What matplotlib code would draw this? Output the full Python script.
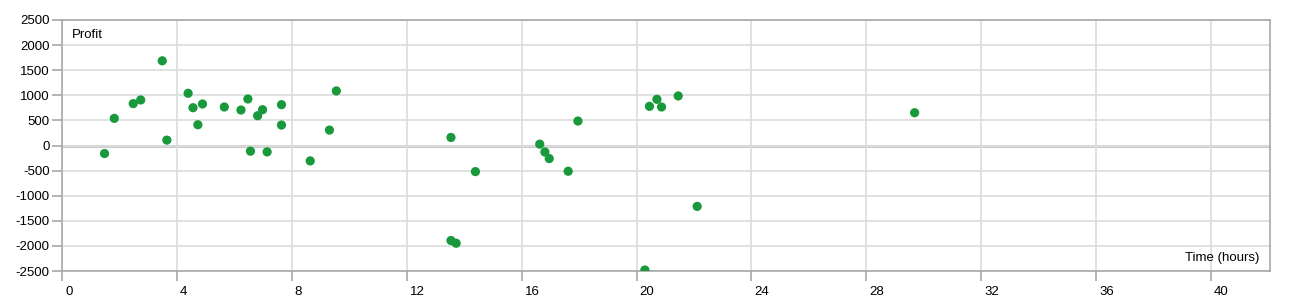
import numpy as np
import matplotlib
matplotlib.use("Agg")
import matplotlib.pyplot as plt
import matplotlib.transforms as mtransforms

plt.rcParams['font.family'] = ['Liberation Sans', 'DejaVu Sans']

# trade duration (hours) vs profit
hours = [1.48, 1.82, 2.48, 2.74, 3.49, 3.65, 4.39, 4.56, 4.73, 4.89,
         5.65, 6.23, 6.47, 6.56, 6.81, 6.98, 7.14, 7.64, 7.64, 8.64,
         9.31, 9.55, 13.54, 13.54, 13.72, 14.39, 16.63, 16.81, 16.96, 17.62,
         17.96, 20.29, 20.45, 20.71, 20.87, 21.45, 22.11, 29.68]
profit = [-160, 540, 834, 907, 1687, 107, 1040, 753, 413, 827,
          767, 707, 927, -113, 593, 713, -127, 813, 407, -307,
          307, 1087, 160, -1893, -1947, -520, 27, -130, -260, -513,
          487, -2480, 780, 920, 767, 987, -1213, 653]

xticks = [0, 4, 8, 12, 16, 20, 24, 28, 32, 36, 40]
yticks = [-2500, -2000, -1500, -1000, -500, 0, 500, 1000, 1500, 2000, 2500]

fig = plt.figure(figsize=(12.9, 3.0), dpi=100)
ax = fig.add_axes([62 / 1290, 29 / 300, 1208 / 1290, 251 / 300])

ax.set_xlim(0, 42.05)
ax.set_ylim(-2500, 2500)
ax.set_xticks(xticks)
ax.set_yticks(yticks)
ax.set_xticklabels([str(t) for t in xticks])
ax.set_yticklabels([str(t) for t in yticks])

ax.grid(True, color='#dcdcdc', linewidth=1.2, zorder=0)
ax.axhline(0, color='#cccccc', linewidth=2.2, zorder=1)

for s in ax.spines.values():
    s.set_color('#a8a8a8')
    s.set_linewidth(1.2)

ax.tick_params(axis='both', colors='#a8a8a8', labelcolor='black', labelsize=9.5,
               length=7, width=1.2)
ax.tick_params(axis='x', pad=4)
ax.tick_params(axis='y', pad=2)

# x labels sit to the right of their tick
offset = mtransforms.ScaledTranslation(3 / 100, 0, fig.dpi_scale_trans)
for lab in ax.get_xticklabels():
    lab.set_horizontalalignment('left')
    lab.set_transform(lab.get_transform() + offset)

ax.scatter(hours, profit, s=44, color='#189a3c', edgecolors='none', zorder=3)

ax.text(0.008, 0.94, 'Profit', transform=ax.transAxes, fontsize=9.5,
        ha='left', va='center')
ax.text(0.991, 0.052, 'Time (hours)', transform=ax.transAxes, fontsize=9.5,
        ha='right', va='center')

fig.savefig('out.png', dpi=100)
